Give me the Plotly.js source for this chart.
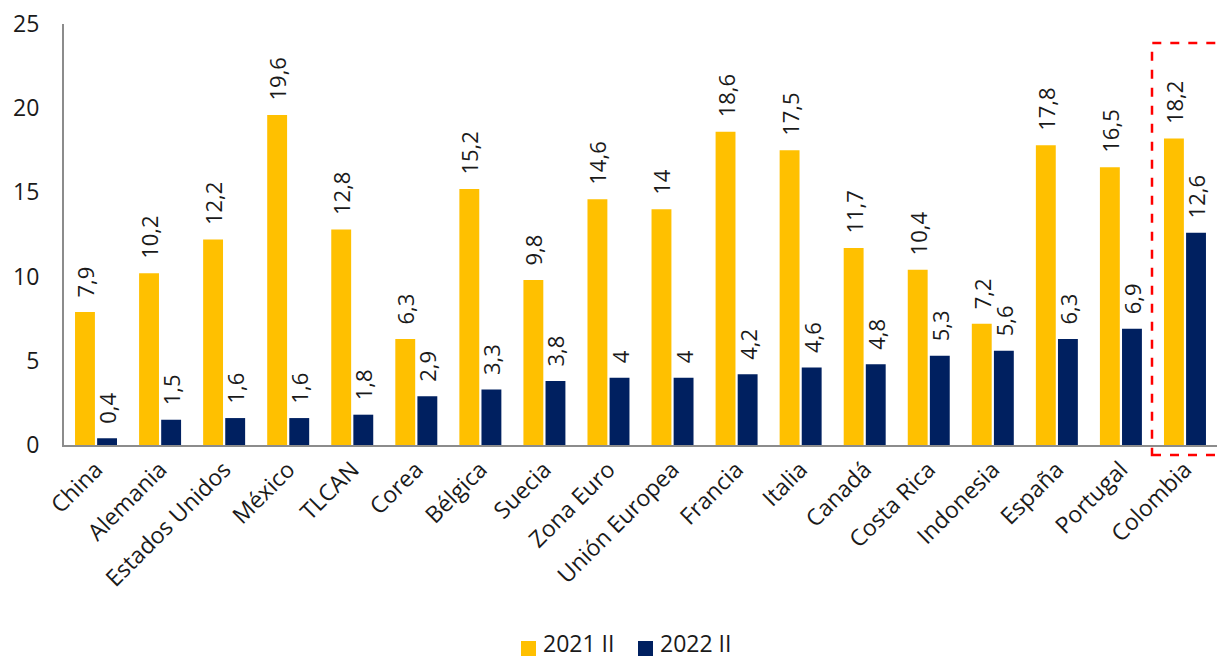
<!DOCTYPE html>
<html>
<head>
<meta charset="utf-8">
<script src="https://cdn.plot.ly/plotly-3.0.1.min.js"></script>
<style>html,body{margin:0;padding:0;background:#fff;}#chart{width:1217px;height:658px;}</style>
</head>
<body>
<div id="chart"></div>
<script>
const categories = ["China","Alemania","Estados Unidos","México","TLCAN","Corea","Bélgica","Suecia","Zona Euro","Unión Europea","Francia","Italia","Canadá","Costa Rica","Indonesia","España","Portugal","Colombia"];
const values2021 = [7.9,10.2,12.2,19.6,12.8,6.3,15.2,9.8,14.6,14,18.6,17.5,11.7,10.4,7.2,17.8,16.5,18.2];
const values2022 = [0.4,1.5,1.6,1.6,1.8,2.9,3.3,3.8,4,4,4.2,4.6,4.8,5.3,5.6,6.3,6.9,12.6];
const seriesNames = ["2021 II","2022 II"];
const seriesColors = ["#FFC000","#002060"];
const yTicks = [0,5,10,15,20,25];

const fmt = v => '\u00a0\u00a0' + String(v).replace('.', ',');
const font = "Open Sans, Noto Sans, sans-serif";
const FS = 22;
const FT = 23;
const txtColor = '#1a1a1a';

const traces = [values2021, values2022].map((vals, i) => ({
  type:'bar', name:seriesNames[i], x:categories, y:vals, text:vals.map(fmt),
  textposition:'outside', textangle:-90, cliponaxis:false, constraintext:'none',
  textfont:{family:font,size:FS,color:txtColor},
  marker:{color:seriesColors[i]}, hoverinfo:'y', showlegend:false
}));

const L=64, T=24, W=1153, H=421;
const py = y => (T+H-y)/H;   // pixel y -> paper
const px = x => (x-L)/W;     // pixel x -> paper

// legend (drawn manually so it does not push the margins)
const legendItems = [{sx:521, tx:542},{sx:638, tx:659}];
const shapes = [{type:'rect', xref:'paper', yref:'paper',
           x0:px(1152), x1:1.05, y0:py(455), y1:py(43),
           line:{color:'#FF0000', width:2.5, dash:'dash'}, fillcolor:'rgba(0,0,0,0)'}];
const annotations = [];
legendItems.forEach((it, i) => {
  shapes.push({type:'rect', xref:'paper', yref:'paper', x0:px(it.sx), x1:px(it.sx+15),
               y0:py(656), y1:py(641), line:{width:0}, fillcolor:seriesColors[i]});
  annotations.push({xref:'paper', yref:'paper', x:px(it.tx), y:py(643), xanchor:'left', yanchor:'middle',
               text:seriesNames[i], showarrow:false, borderpad:0, font:{family:font,size:FT,color:txtColor}});
});

const layout = {
  width:1217, height:658,
  margin:{l:L, r:1217-L-W, t:T, b:658-T-H, pad:0},
  paper_bgcolor:'#fff', plot_bgcolor:'#fff',
  font:{family:font, size:FT, color:txtColor},
  barmode:'group', bargap:0.31, bargroupgap:0.1,
  showlegend:false,
  xaxis:{type:'category', range:[-0.5,17.5], tickangle:-45, showline:true, linecolor:'#8c8c8c', linewidth:2,
         ticks:'', showgrid:false, zeroline:false, tickfont:{family:font,size:FT,color:txtColor}},
  yaxis:{range:[0,25], tickvals:yTicks, showline:true, linecolor:'#8c8c8c', linewidth:2, ticks:'',
         showgrid:false, zeroline:false, ticklabelstandoff:18, tickfont:{family:font,size:FT,color:txtColor}},
  shapes:shapes,
  annotations:annotations
};

Plotly.newPlot('chart', traces, layout, {displayModeBar:false, staticPlot:true});
</script>
</body>
</html>
